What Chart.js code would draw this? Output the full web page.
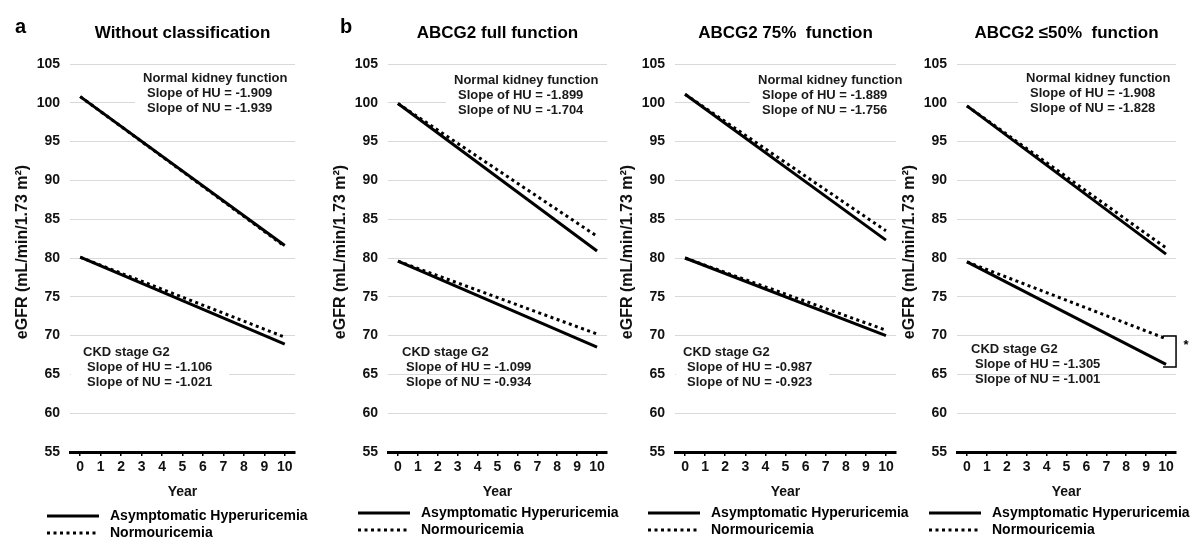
<!DOCTYPE html>
<html>
<head>
<meta charset="utf-8">
<script src="https://cdn.jsdelivr.net/npm/chart.js@4.4.1/dist/chart.umd.min.js"></script>
<style>
    html, body { margin: 0; padding: 0; background: #fff; }
    #wrap { position: relative; width: 1192px; height: 539px; overflow: hidden; background: #fff; }
    #wrap canvas { position: absolute; top: 0; }
</style>
</head>
<body>
<div id="wrap"></div>
<script>
// x categories and y range
const years = ['0', '1', '2', '3', '4', '5', '6', '7', '8', '9', '10'];
const yMin = 55;
const yMax = 105;
const yStep = 5;

const panelTitles = ['Without classification', 'ABCG2 full function', 'ABCG2 75%  function', 'ABCG2 \u226450%  function'];

// eGFR at year 0 and year 10 (straight regression lines)
const normalHU_a = [100.8, 81.6];
const normalNU_a = [100.8, 81.5];
const ckdHU_a = [80.1, 68.9];
const ckdNU_a = [80.1, 69.8];

const normalHU_b = [99.9, 80.9];
const normalNU_b = [99.9, 82.8];
const ckdHU_b = [79.6, 68.5];
const ckdNU_b = [79.6, 70.2];

const normalHU_c = [101.1, 82.3];
const normalNU_c = [101.1, 83.5];
const ckdHU_c = [80.0, 70.0];
const ckdNU_c = [80.0, 70.7];

const normalHU_d = [99.6, 80.5];
const normalNU_d = [99.6, 81.3];
const ckdHU_d = [79.5, 66.3];
const ckdNU_d = [79.5, 69.6];

// slope annotations
const slopeHU_normal = ['-1.909', '-1.899', '-1.889', '-1.908'];
const slopeNU_normal = ['-1.939', '-1.704', '-1.756', '-1.828'];
const slopeHU_ckd = ['-1.106', '-1.099', '-0.987', '-1.305'];
const slopeNU_ckd = ['-1.021', '-0.934', '-0.923', '-1.001'];

const FONT = 'Arial, "Liberation Sans", sans-serif';
Chart.defaults.font.family = FONT;
Chart.defaults.color = '#111';

const DOT = [3, 3.5];

function endpoints(arr) {
    return [{ x: years[0], y: arr[0] }, { x: years[years.length - 1], y: arr[1] }];
}

function lineSet(label, arr, dotted) {
    return {
        label,
        data: endpoints(arr),
        borderColor: '#000',
        borderWidth: 3,
        borderDash: dotted ? DOT : [],
        pointRadius: 0,
        fill: false,
        tension: 0
    };
}

function makePanel(i, lay, series, bracket) {
    const canvas = document.createElement('canvas');
    canvas.width = lay.right - lay.left;
    canvas.height = 539;
    canvas.style.left = lay.left + 'px';
    document.getElementById('wrap').appendChild(canvas);

    const L = lay.left;
    const extras = {
        id: 'extras' + i,
        beforeDatasetsDraw(chart) {
            const ctx = chart.ctx;
            const ca = chart.chartArea;
            ctx.save();
            ctx.fillStyle = '#fff';
            const bx = lay.topNote[0] - L - 8;
            ctx.fillRect(bx, 68, ca.right - bx, 50);
            if (lay.ckdBox) {
                ctx.fillRect(ca.left + 1, 342, lay.ckdNote[0] - L + 145 - ca.left, 48);
            }
            ctx.restore();
        },
        afterDraw(chart) {
            const ctx = chart.ctx;
            const ca = chart.chartArea;
            ctx.save();
            ctx.fillStyle = '#000';
            ctx.textBaseline = 'middle';

            // panel title
            ctx.font = 'bold 17px ' + FONT;
            ctx.textAlign = 'center';
            ctx.fillText(panelTitles[i], (ca.left + ca.right) / 2, 33);

            // y axis title
            ctx.save();
            ctx.translate(ca.left - 47, 252);
            ctx.rotate(-Math.PI / 2);
            ctx.font = 'bold 16px ' + FONT;
            ctx.fillStyle = '#111';
            ctx.fillText('eGFR (mL/min/1.73 m\u00b2)', 0, 0);
            ctx.restore();

            if (lay.letter) {
                ctx.font = 'bold 20px ' + FONT;
                ctx.textAlign = 'left';
                ctx.textBaseline = 'alphabetic';
                ctx.fillText(lay.letter, lay.letterX - L, 33);
                ctx.textBaseline = 'middle';
            }

            // slope notes
            ctx.font = 'bold 13px ' + FONT;
            ctx.textAlign = 'left';
            ctx.fillStyle = '#1a1a1a';
            let [tx, ty] = lay.topNote;
            ctx.fillText('Normal kidney function', tx - L, ty);
            ctx.fillText('Slope of HU = ' + slopeHU_normal[i], tx - L + 4, ty + 15);
            ctx.fillText('Slope of NU = ' + slopeNU_normal[i], tx - L + 4, ty + 30);
            [tx, ty] = lay.ckdNote;
            ctx.fillText('CKD stage G2', tx - L, ty);
            ctx.fillText('Slope of HU = ' + slopeHU_ckd[i], tx - L + 4, ty + 15);
            ctx.fillText('Slope of NU = ' + slopeNU_ckd[i], tx - L + 4, ty + 30);

            // legend
            const [lx, ly] = lay.legend;
            ctx.strokeStyle = '#000';
            ctx.lineWidth = 3;
            ctx.beginPath();
            ctx.moveTo(lx - L, ly);
            ctx.lineTo(lx - L + 52, ly);
            ctx.stroke();
            ctx.setLineDash(DOT);
            ctx.beginPath();
            ctx.moveTo(lx - L, ly + 17);
            ctx.lineTo(lx - L + 52, ly + 17);
            ctx.stroke();
            ctx.setLineDash([]);
            ctx.font = 'bold 14px ' + FONT;
            ctx.fillStyle = '#000';
            ctx.fillText('Asymptomatic Hyperuricemia', lx - L + 63, ly);
            ctx.fillText('Normouricemia', lx - L + 63, ly + 17);

            // significance bracket
            if (bracket) {
                const xs = chart.scales.x;
                const ys = chart.scales.y;
                const xe = xs.getPixelForValue(years.length - 1);
                const y1 = ys.getPixelForValue(bracket[0] + 0.35);
                const y2 = ys.getPixelForValue(bracket[1] - 0.35);
                ctx.lineWidth = 1.5;
                ctx.beginPath();
                ctx.moveTo(xe - 3, y1);
                ctx.lineTo(xe + 10, y1);
                ctx.lineTo(xe + 10, y2);
                ctx.lineTo(xe - 3, y2);
                ctx.stroke();
                ctx.font = 'bold 13px ' + FONT;
                ctx.textAlign = 'center';
                ctx.fillText('*', xe + 20, y1 + 9);
            }
            ctx.restore();
        }
    };

    return new Chart(canvas, {
        type: 'line',
        data: {
            labels: years,
            datasets: [
                lineSet('Normouricemia', series[1], true),
                lineSet('Asymptomatic Hyperuricemia', series[0], false),
                lineSet('Normouricemia', series[3], true),
                lineSet('Asymptomatic Hyperuricemia', series[2], false)
            ]
        },
        options: {
            responsive: false,
            animation: false,
            devicePixelRatio: 1,
            layout: { padding: { top: 64, bottom: 38, left: 0, right: lay.right - lay.plotRight } },
            plugins: { legend: { display: false }, tooltip: { enabled: false } },
            scales: {
                x: {
                    type: 'category',
                    offset: true,
                    grid: { drawOnChartArea: false, drawTicks: true, tickLength: 4, color: '#000', lineWidth: 1.5 },
                    border: { display: true, color: '#000', width: 3 },
                    ticks: { color: '#111', font: { size: 14, weight: 'bold' }, padding: 3, maxRotation: 0, autoSkip: false },
                    title: { display: true, text: 'Year', color: '#111', font: { size: 14, weight: 'bold' }, padding: { top: 0, bottom: 0 } },
                    afterFit(s) { s.height = 49; }
                },
                y: {
                    min: yMin,
                    max: yMax,
                    ticks: { stepSize: yStep, color: '#111', font: { size: 14, weight: 'bold' }, padding: 10 },
                    grid: {
                        drawTicks: false,
                        lineWidth: 1,
                        color: (c) => (c.tick && c.tick.value === yMin ? 'rgba(0,0,0,0)' : '#d9d9d9')
                    },
                    border: { display: false },
                    title: { display: false },
                    afterFit(s) { s.width = lay.plotLeft - lay.left; }
                }
            }
        },
        plugins: [extras]
    });
}

makePanel(0, { left: 0, right: 318, plotLeft: 70, plotRight: 295, letter: 'a', letterX: 15, topNote: [143, 78], ckdNote: [83, 352], legend: [47, 516], ckdBox: true },
    [normalHU_a, normalNU_a, ckdHU_a, ckdNU_a]);
makePanel(1, { left: 318, right: 640, plotLeft: 388, plotRight: 607, letter: 'b', letterX: 340, topNote: [454, 80], ckdNote: [402, 352], legend: [358, 513], ckdBox: false },
    [normalHU_b, normalNU_b, ckdHU_b, ckdNU_b]);
makePanel(2, { left: 605, right: 925, plotLeft: 675, plotRight: 896, letter: null, topNote: [758, 80], ckdNote: [683, 352], legend: [648, 513], ckdBox: true },
    [normalHU_c, normalNU_c, ckdHU_c, ckdNU_c]);
makePanel(3, { left: 887, right: 1192, plotLeft: 957, plotRight: 1176, letter: null, topNote: [1026, 78], ckdNote: [971, 349], legend: [929, 513], ckdBox: false },
    [normalHU_d, normalNU_d, ckdHU_d, ckdNU_d], [ckdNU_d[1], ckdHU_d[1]]);
</script>
</body>
</html>
